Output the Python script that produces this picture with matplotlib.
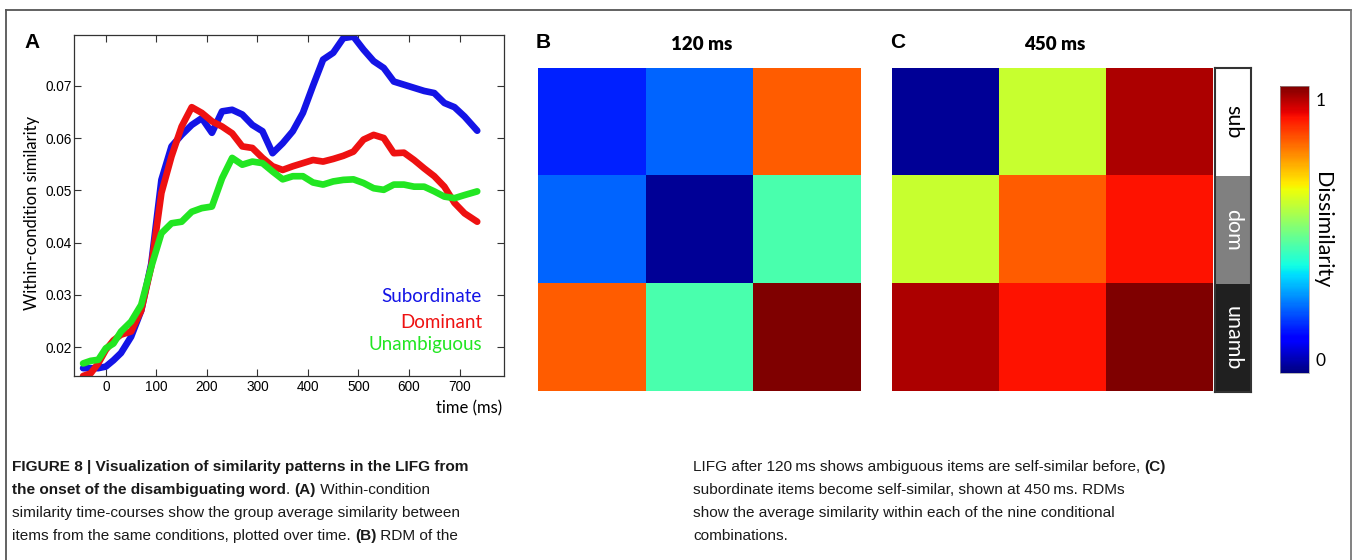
import numpy as np
import matplotlib
matplotlib.use("Agg")
import matplotlib.pyplot as plt
from matplotlib import font_manager
from matplotlib.colors import Normalize
from matplotlib.cm import ScalarMappable
from matplotlib.lines import Line2D

# time course data (ms)
time_ms = [-45, -30, -15, 0, 15, 30, 50, 70, 90, 110, 130, 150, 170, 190, 210,
           230, 250, 270, 290, 310, 330, 350, 370, 390, 410, 430, 450, 470,
           490, 510, 530, 550, 570, 590, 610, 630, 650, 670, 690, 710, 735]
subordinate = [0.0160, 0.0160, 0.0160, 0.0163, 0.0175, 0.0189, 0.0220, 0.0270,
               0.0360, 0.0520, 0.0584, 0.0606, 0.0625, 0.0638, 0.0610, 0.0651,
               0.0654, 0.0645, 0.0625, 0.0613, 0.0571, 0.0590, 0.0613, 0.0648,
               0.0700, 0.0750, 0.0763, 0.0791, 0.0794, 0.0769, 0.0747, 0.0734,
               0.0708, 0.0702, 0.0696, 0.0690, 0.0686, 0.0667, 0.0659, 0.0641,
               0.0614]
dominant = [0.0145, 0.0150, 0.0169, 0.0195, 0.0213, 0.0224, 0.0230, 0.0270,
            0.0355, 0.0495, 0.0565, 0.0622, 0.0659, 0.0648, 0.0632, 0.0622,
            0.0609, 0.0584, 0.0581, 0.0562, 0.0546, 0.0539, 0.0546, 0.0552,
            0.0558, 0.0555, 0.0560, 0.0566, 0.0574, 0.0597, 0.0606, 0.0600,
            0.0571, 0.0572, 0.0558, 0.0542, 0.0527, 0.0507, 0.0476, 0.0456,
            0.0440]
unambiguous = [0.0169, 0.0174, 0.0176, 0.0198, 0.0207, 0.0230, 0.0249, 0.0281,
               0.0354, 0.0418, 0.0437, 0.0440, 0.0459, 0.0466, 0.0469, 0.0523,
               0.0562, 0.0549, 0.0555, 0.0552, 0.0536, 0.0521, 0.0527, 0.0527,
               0.0515, 0.0511, 0.0517, 0.0520, 0.0521, 0.0514, 0.0504, 0.0501,
               0.0511, 0.0511, 0.0507, 0.0507, 0.0498, 0.0488, 0.0485, 0.0491,
               0.0498]

# RDMs (dissimilarity 0..1)
conditions = ["sub", "dom", "unamb"]
rdm_120 = [[0.16, 0.225, 0.81],
           [0.225, 0.02, 0.44],
           [0.81, 0.44, 1.00]]
rdm_450 = [[0.02, 0.59, 0.96],
           [0.59, 0.81, 0.89],
           [0.96, 0.89, 1.00]]
strip_gray = [1.0, 0.5, 0.13]


def has_font(name):
    try:
        font_manager.findfont(name, fallback_to_default=False)
        return True
    except Exception:
        return False


narrow = "Liberation Sans Narrow" if has_font("Liberation Sans Narrow") else "Liberation Sans"
cap_size = 13.2 if narrow == "Liberation Sans Narrow" else 11.1
myriad = "Lato"
arial = "Liberation Sans"

W, H = 1354, 560
fig = plt.figure(figsize=(W / 100, H / 100), dpi=100)


def box(x0, y0, x1, y1):
    # pixel box (top-left origin) -> figure fraction rect
    return [x0 / W, (H - y1) / H, (x1 - x0) / W, (y1 - y0) / H]


# outer frame of the figure panel
fig.add_artist(Line2D([6 / W, 6 / W], [0, 1 - 10 / H], color="#555555", lw=1.3, transform=fig.transFigure))
fig.add_artist(Line2D([6 / W, 1351 / W], [1 - 10 / H, 1 - 10 / H], color="#555555", lw=1.3, transform=fig.transFigure))
fig.add_artist(Line2D([1351 / W, 1351 / W], [0, 1 - 10 / H], color="#777777", lw=1.3, transform=fig.transFigure))

# ---- panel A
ax = fig.add_axes(box(74, 35, 504, 376))
ax.plot(time_ms, subordinate, color="#1414e6", lw=4.8, solid_capstyle="round")
ax.plot(time_ms, dominant, color="#ee1111", lw=4.8, solid_capstyle="round")
ax.plot(time_ms, unambiguous, color="#22e622", lw=4.8, solid_capstyle="round")
ax.set_xlim(-63, 788)
ax.set_ylim(0.0145, 0.0797)
ax.set_xticks(range(0, 701, 100))
ax.set_yticks([0.02, 0.03, 0.04, 0.05, 0.06, 0.07])
ax.yaxis.set_major_formatter(matplotlib.ticker.FormatStrFormatter("%.2f"))
ax.tick_params(direction="in", top=True, right=True, length=5, width=0.8,
               labelsize=9.8, color="#333333")
ax.tick_params(axis="x", pad=3)
ax.tick_params(axis="y", pad=1.5)
for lab in ax.get_xticklabels() + ax.get_yticklabels():
    lab.set_family(arial)
for s in ax.spines.values():
    s.set_linewidth(0.9)
    s.set_color("#333333")
ax.set_ylabel("Within-condition similarity", fontsize=12, family=myriad)
ax.yaxis.set_label_coords(-0.08, 0.478)
ax.set_xlabel("time (ms)", fontsize=12, family=myriad, loc="right")
ax.xaxis.set_label_coords(0.995, -0.072)
for txt, col, yy in [("Subordinate", "#1414e6", 0.2346),
                     ("Dominant", "#ee1111", 0.158),
                     ("Unambiguous", "#22e622", 0.091)]:
    ax.text(0.949, yy, txt, color=col, transform=ax.transAxes, ha="right",
            va="center", fontsize=13.5, family=myriad)
fig.text(32 / W, 1 - 42 / H, "A", fontsize=15, fontweight="bold",
         family=arial, ha="center", va="center")

# ---- panels B and C
for rdm, rect, letter, lx, title, tx in [(rdm_120, box(538, 68, 861, 391), "B", 543, "120 ms", 702),
                                         (rdm_450, box(892, 68, 1213, 391), "C", 898, "450 ms", 1055)]:
    axh = fig.add_axes(rect)
    im = axh.imshow(np.array(rdm), cmap="jet", vmin=0, vmax=1, aspect="auto",
                    interpolation="nearest")
    axh.set_xticks([])
    axh.set_yticks([])
    for s in axh.spines.values():
        s.set_visible(False)
    fig.text(lx / W, 1 - 42 / H, letter, fontsize=15, fontweight="bold",
             family=arial, ha="center", va="center")
    fig.text(tx / W, 1 - 44 / H, title, fontsize=13.5, fontweight="heavy",
             family=myriad, ha="center", va="center")

# condition strip
axs = fig.add_axes(box(1215, 68, 1251, 392))
axs.imshow(np.array(strip_gray)[:, None], cmap="gray", vmin=0, vmax=1,
           aspect="auto", interpolation="nearest")
axs.set_xticks([])
axs.set_yticks([])
for s in axs.spines.values():
    s.set_color("#333333")
    s.set_linewidth(1.5)
for i, c in enumerate(conditions):
    axs.text(0, i, c, rotation=-90, ha="center", va="center", fontsize=15.5,
             family=myriad, color="black" if i == 0 else "white")

# colorbar
cax = fig.add_axes(box(1280, 86, 1309, 373))
cb = fig.colorbar(ScalarMappable(Normalize(-0.05, 1.05), cmap="jet"), cax=cax)
cb.set_ticks([0, 1])
cb.ax.tick_params(length=0, labelsize=12.5, pad=5)
for lab in cb.ax.get_yticklabels():
    lab.set_family(myriad)
cb.outline.set_linewidth(0.5)
cb.outline.set_edgecolor("#999999")
fig.text(1322 / W, 1 - 230 / H, "Dissimilarity", rotation=-90, ha="center",
         va="center", fontsize=15.5, family=myriad)

# ---- caption
renderer = fig.canvas.get_renderer()


def put_runs(x_px, y_px, runs, size=cap_size):
    x = x_px / W
    for s, bold in runs:
        t = fig.text(x, 1 - y_px / H, s, fontsize=size, family=narrow,
                     fontweight="bold" if bold else "normal", va="center",
                     ha="left", color="#1a1a1a")
        x += t.get_window_extent(renderer).width / W


left_lines = [
    [("FIGURE 8 | Visualization of similarity patterns in the LIFG from", True)],
    [("the onset of the disambiguating word", True), (". ", False), ("(A)", True),
     (" Within-condition", False)],
    [("similarity time-courses show the group average similarity between", False)],
    [("items from the same conditions, plotted over time. ", False), ("(B)", True),
     (" RDM of the", False)],
]
right_lines = [
    [("LIFG after 120\u2009ms shows ambiguous items are self-similar before, ", False),
     ("(C)", True)],
    [("subordinate items become self-similar, shown at 450\u2009ms. RDMs", False)],
    [("show the average similarity within each of the nine conditional", False)],
    [("combinations.", False)],
]
for i, runs in enumerate(left_lines):
    put_runs(12, 467 + 23 * i, runs)
for i, runs in enumerate(right_lines):
    put_runs(693, 467 + 23 * i, runs)

fig.savefig("out.png", dpi=100)
